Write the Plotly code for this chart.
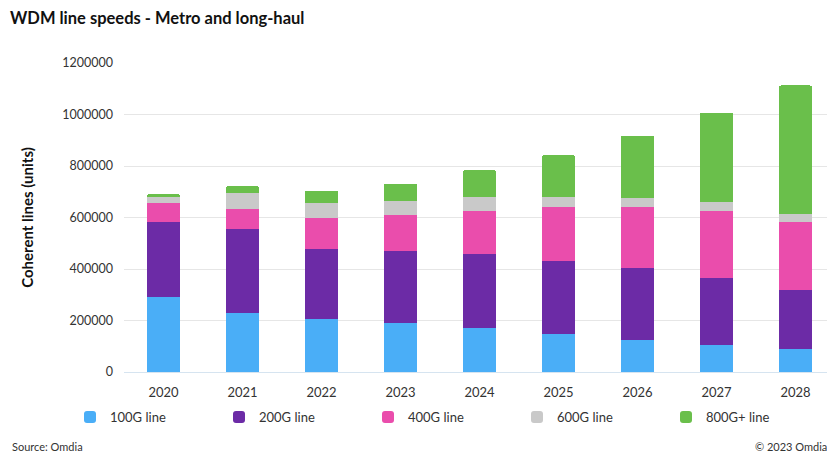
import plotly.graph_objects as go

years = ["2020", "2021", "2022", "2023", "2024", "2025", "2026", "2027", "2028"]
series_names = ["100G line", "200G line", "400G line", "600G line", "800G+ line"]
v100 = [293000, 230000, 204000, 191000, 172000, 146000, 124000, 106000, 89000]
v200 = [291000, 325000, 273000, 278000, 285000, 287000, 278000, 259000, 230000]
v400 = [71000, 78000, 123000, 140000, 169000, 206000, 237000, 260000, 262000]
v600 = [26000, 63000, 56000, 54000, 52000, 41000, 37000, 34000, 31000]
v800 = [10000, 26000, 48000, 69000, 106000, 162000, 241000, 348000, 501000]
colors = ["#4AAEF7", "#6C2BA6", "#EA4DAC", "#C9C9C9", "#6ABF4B"]
y_ticks = [0, 200000, 400000, 600000, 800000, 1000000, 1200000]

FONT = "Lato"
fig = go.Figure()
for name, vals, col in zip(series_names, [v100, v200, v400, v600, v800], colors):
    fig.add_trace(go.Bar(x=years, y=vals, name=name, marker=dict(color=col, line=dict(width=0))))

# page has an 8px body margin; figure is sized to fill the rest of the window
OFF = 8
W, H = 835 - OFF, 454 - OFF
L, R, T, B = 124 - OFF, 0, 63 - OFF, 454 - 372
pw, ph = W - L - R, H - T - B

def px(page_x):
    return (page_x - OFF - L) / pw

def py(page_y):
    return (H - B - (page_y - OFF)) / ph

fig.update_layout(
    width=W, height=H,
    margin=dict(l=L, r=R, t=T, b=B, autoexpand=False),
    barmode="stack", bargap=0.58, barcornerradius=2,
    plot_bgcolor="white", paper_bgcolor="white",
    font=dict(family=FONT, size=13, color="#333333"),
    title=dict(text="<b>WDM line speeds - Metro and long-haul</b>", x=(10 - OFF) / W, xref="container",
               y=1 - (18 - OFF) / H, yref="container", xanchor="left", yanchor="middle",
               font=dict(family=FONT, size=16.5, color="#111111")),
    xaxis=dict(showgrid=False, showline=True, linecolor="#D6E4F0", linewidth=1,
               ticks="", tickfont=dict(size=13, color="#333333"), ticklabelstandoff=8),
    yaxis=dict(range=[0, 1200000], tickvals=y_ticks, tickformat="d",
               showgrid=True, gridcolor="#E6E6E6", gridwidth=1, zeroline=False,
               ticks="", tickfont=dict(size=12.5, color="#333333"), ticklabelstandoff=10,
               title=dict(text="<b>Coherent lines (units)</b>", standoff=25,
                          font=dict(size=15, color="#111111"))),
    showlegend=True,
    legend=dict(orientation="h", xref="paper", x=px(70), xanchor="left",
                y=py(417), yanchor="middle", entrywidth=104, entrywidthmode="pixels",
                itemwidth=30, font=dict(size=13, color="#333333"), traceorder="normal"),
    annotations=[
        dict(text="Source: Omdia", xref="paper", yref="paper", x=px(10), y=py(447),
             xanchor="left", yanchor="middle", showarrow=False, font=dict(size=11, color="#333333")),
        dict(text="© 2023 Omdia", xref="paper", yref="paper", x=px(829), y=py(447),
             xanchor="right", yanchor="middle", showarrow=False, font=dict(size=11, color="#333333")),
    ],
)

fig.write_html("out.html")
